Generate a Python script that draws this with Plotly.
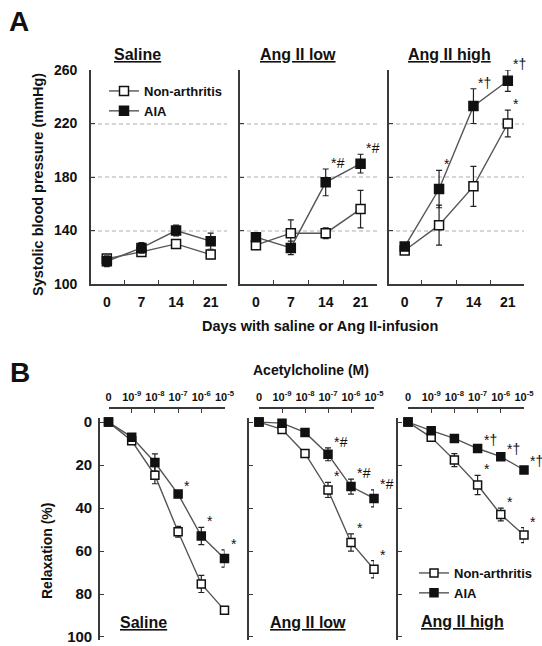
import plotly.graph_objects as go

W, H = 542, 646

# ---------------- data ----------------
panels = ["Saline", "Ang II low", "Ang II high"]
series = ["Non-arthritis", "AIA"]

# Panel A: systolic blood pressure (mmHg) vs days
days = [0, 7, 14, 21]
day_labels = ["0", "7", "14", "21"]
sbp_non = {"Saline": [119, 124, 130, 122],
           "Ang II low": [129, 138, 138, 156],
           "Ang II high": [125, 144, 173, 220]}
sbp_non_err = {"Saline": [2, 2, 3, 3],
               "Ang II low": [2, 10, 4, 14],
               "Ang II high": [2, 15, 15, 10]}
sbp_aia = {"Saline": [117, 127, 140, 132],
           "Ang II low": [135, 127, 176, 190],
           "Ang II high": [128, 171, 233, 252]}
sbp_aia_err = {"Saline": [4, 4, 4, 6],
               "Ang II low": [2, 5, 10, 7],
               "Ang II high": [2, 14, 13, 8]}
sig_non_A = {"Saline": ["", "", "", ""],
             "Ang II low": ["", "", "", ""],
             "Ang II high": ["", "", "", "*"]}
sig_aia_A = {"Saline": ["", "", "", ""],
             "Ang II low": ["", "", "*<i>#</i>", "*<i>#</i>"],
             "Ang II high": ["", "*", "*†", "*†"]}
sbp_ticks = [100, 140, 180, 220, 260]
sbp_grid = [140, 180, 220]

# Panel B: relaxation (%) vs acetylcholine (M)
ach_idx = [0, 1, 2, 3, 4, 5]
ach_labels = ["0", "10<sup>-9</sup>", "10<sup>-8</sup>", "10<sup>-7</sup>",
              "10<sup>-6</sup>", "10<sup>-5</sup>"]
rel_non = {"Saline": [0, 8.7, 24.7, 51, 75.3, 87.5],
           "Ang II low": [0, 3.4, 14.6, 31.6, 56, 68.5],
           "Ang II high": [0, 7.1, 17.7, 29.3, 43, 52.6]}
rel_non_err = {"Saline": [0, 1, 4, 2.5, 4, 1],
               "Ang II low": [0, 1, 1, 3.5, 4, 4],
               "Ang II high": [0, 1, 3, 4.5, 3, 3.5]}
rel_aia = {"Saline": [0, 7, 18.8, 33.5, 53, 63.5],
           "Ang II low": [0, 0.5, 4.8, 15, 30, 35.5],
           "Ang II high": [0, 4, 7.6, 12.3, 16.1, 22.3]}
rel_aia_err = {"Saline": [0, 1, 4, 1, 4, 4],
               "Ang II low": [0, 1, 1, 3, 3.5, 4],
               "Ang II high": [0, 1, 1, 1, 1, 1.5]}
sig_non_B = {"Saline": ["", "", "", "", "", ""],
             "Ang II low": ["", "", "", "*", "*", "*"],
             "Ang II high": ["", "", "", "*", "*", "*"]}
sig_aia_B = {"Saline": ["", "", "", "*", "*", "*"],
             "Ang II low": ["", "", "", "*<i>#</i>", "*<i>#</i>", "*<i>#</i>"],
             "Ang II high": ["", "", "", "*†", "*†", "*†"]}
rel_ticks = [0, 20, 40, 60, 80, 100]

# ---------------- layout helpers ----------------
FONT = "Liberation Sans, Arial, sans-serif"
INK = "#111111"
AX = "#3a3a3a"


def px_x(p):
    return p / W


def px_y(p):
    return 1 - p / H


A_xdom = [(91, 227), (240, 377), (389, 524)]
A_ydom = (284, 70)
B_xdom = [(108.5, 224.5), (259, 374), (408, 524)]
B_yline = [99, 248, 397]
B_ydom = (640, 418)

fig = go.Figure()

styles = {
    "Non-arthritis": dict(symbol="square", color="white", line=dict(color="#111", width=1.5)),
    "AIA": dict(symbol="square", color="#111", line=dict(color="#111", width=1.5)),
}

annotations = []
SIGFONT = dict(size=14, color=INK, family=FONT)

# ---------------- panel A ----------------
for i, p in enumerate(panels):
    k = "" if i == 0 else str(i + 1)
    for s, vals, errs, sig in [("Non-arthritis", sbp_non, sbp_non_err, sig_non_A),
                               ("AIA", sbp_aia, sbp_aia_err, sig_aia_A)]:
        fig.add_trace(go.Scatter(
            x=days, y=vals[p], mode="lines+markers", name=s,
            xaxis="x" + k, yaxis="y" + k,
            line=dict(color="#555555", width=1.4),
            marker=dict(size=9, **styles[s]),
            error_y=dict(type="data", array=errs[p], color="#222", thickness=1.2, width=3),
            showlegend=(i == 0), legend="legend", cliponaxis=False,
        ))
        for d, v, e, t in zip(days, vals[p], errs[p], sig[p]):
            if t:
                annotations.append(dict(x=d, y=v + e, xref="x" + k, yref="y" + k, text=t,
                                        showarrow=False, xanchor="left", yanchor="middle",
                                        xshift=3, yshift=6, font=SIGFONT))
    fig.layout["xaxis" + k] = dict(
        domain=[px_x(A_xdom[i][0]), px_x(A_xdom[i][1])], anchor="y" + k,
        range=[-3.2, 24.3], tickmode="array", tickvals=days, ticktext=day_labels,
        ticks="", showline=True, linecolor=AX, linewidth=1.6, showgrid=False, zeroline=False,
        tickfont=dict(size=14, weight="bold", color=INK, family=FONT), ticklabelstandoff=4,
        automargin=False,
        minor=dict(tickmode="array", tickvals=[3.5, 10.5, 17.5], ticks="inside", ticklen=4,
                   tickcolor=AX, tickwidth=1.3, showgrid=False),
    )
    fig.layout["yaxis" + k] = dict(
        domain=[px_y(A_ydom[0]), px_y(A_ydom[1])], anchor="x" + k,
        range=[100, 260], tickmode="array", tickvals=sbp_ticks,
        ticks="inside", ticklen=4, tickcolor=AX, tickwidth=1.3,
        showline=True, linecolor=AX, linewidth=1.6, showgrid=False, zeroline=False,
        showticklabels=(i == 0), ticklabelstandoff=9, automargin=False,
        tickfont=dict(size=14, weight="bold", color=INK, family=FONT),
        minor=dict(tickmode="array", tickvals=sbp_grid, ticks="", showgrid=True,
                   gridcolor="#d6d6d6", griddash="4px,3px", gridwidth=2),
    )

# ---------------- panel B ----------------
for i, p in enumerate(panels):
    k = str(i + 4)
    for s, vals, errs, sig in [("Non-arthritis", rel_non, rel_non_err, sig_non_B),
                               ("AIA", rel_aia, rel_aia_err, sig_aia_B)]:
        fig.add_trace(go.Scatter(
            x=ach_idx, y=vals[p], mode="lines+markers", name=s,
            xaxis="x" + k, yaxis="y" + k,
            line=dict(color="#555555", width=1.4),
            marker=dict(size=8, **styles[s]),
            error_y=dict(type="data", array=errs[p], color="#222", thickness=1.2, width=3),
            showlegend=(i == 2), legend="legend2", cliponaxis=False,
        ))
        for d, v, e, t in zip(ach_idx, vals[p], errs[p], sig[p]):
            if t:
                annotations.append(dict(x=d, y=v - e, xref="x" + k, yref="y" + k, text=t,
                                        showarrow=False, xanchor="left", yanchor="middle",
                                        xshift=4, yshift=6, font=SIGFONT))
    fig.layout["xaxis" + k] = dict(
        domain=[px_x(B_xdom[i][0]), px_x(B_xdom[i][1])], anchor="free",
        position=px_y(408), side="top",
        range=[0, 5], tickmode="array", tickvals=ach_idx, ticktext=ach_labels,
        ticks="inside", ticklen=4, tickcolor=AX, tickwidth=1.3, tickangle=0,
        showline=True, linecolor=AX, linewidth=1.6, showgrid=False, zeroline=False,
        tickfont=dict(size=11, weight="bold", color=INK, family=FONT), ticklabelstandoff=2,
        automargin=False,
    )
    fig.layout["yaxis" + k] = dict(
        domain=[px_y(B_ydom[0]), px_y(B_ydom[1])], anchor="free",
        position=px_x(B_yline[i]),
        range=[101.4, -1.9], tickmode="array", tickvals=rel_ticks,
        ticks="inside", ticklen=4, tickcolor=AX, tickwidth=1.3,
        showline=True, linecolor=AX, linewidth=1.6, showgrid=False, zeroline=False,
        showticklabels=(i == 0), ticklabelstandoff=3, automargin=False,
        tickfont=dict(size=15, weight="bold", color=INK, family=FONT),
    )

# ---------------- text ----------------
def txt(x, y, t, size, angle=0, weight="bold"):
    annotations.append(dict(x=px_x(x), y=px_y(y), xref="paper", yref="paper", text=t,
                            showarrow=False, xanchor="center", yanchor="middle",
                            textangle=angle,
                            font=dict(size=size, color=INK, family=FONT, weight=weight)))


txt(19, 22, "A", 28)
txt(20, 372, "B", 28)
for (cx, cy), p in zip([(137, 55), (298, 55), (449, 55)], panels):
    txt(cx, cy, "<u>" + p + "</u>", 16)
for (cx, cy), p in zip([(143, 622), (308, 622), (462, 621)], panels):
    txt(cx, cy, "<u>" + p + "</u>", 16)
txt(38, 185, "Systolic blood pressure (mmHg)", 14.5, angle=-90)
txt(320, 326, "Days with saline or Ang II-infusion", 14.5)
txt(311, 370, "Acetylcholine (M)", 14)
txt(47, 551, "Relaxation (%)", 14, angle=-90)

fig.update_layout(
    width=W, height=H, margin=dict(l=0, r=0, t=0, b=0, pad=0, autoexpand=False),
    plot_bgcolor="white", paper_bgcolor="white",
    font=dict(family=FONT, color=INK),
    annotations=annotations,
    legend=dict(x=px_x(104), y=px_y(76), xanchor="left", yanchor="top",
                bgcolor="rgba(0,0,0,0)", tracegroupgap=0, itemwidth=30,
                font=dict(size=13, weight="bold", color=INK, family=FONT)),
    legend2=dict(x=px_x(414), y=px_y(558), xanchor="left", yanchor="top",
                 bgcolor="rgba(0,0,0,0)", tracegroupgap=0, itemwidth=30,
                 font=dict(size=13, weight="bold", color=INK, family=FONT)),
)

fig.write_html("out.html", config={"displayModeBar": False},
               post_script="document.body.style.margin='0px';")
